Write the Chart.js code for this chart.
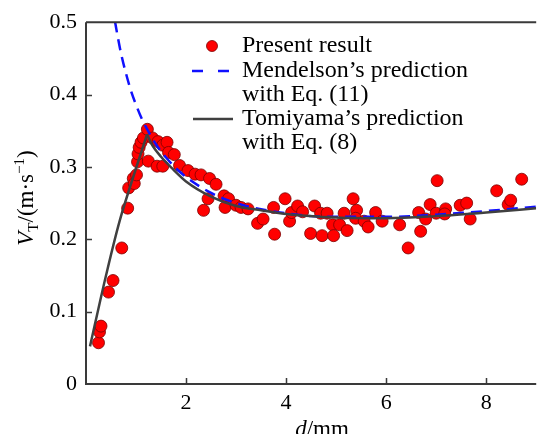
<!DOCTYPE html>
<html>
<head>
<meta charset="utf-8">
<script src="https://cdn.jsdelivr.net/npm/chart.js@4.4.1/dist/chart.umd.min.js"></script>
<style>
  html, body { margin: 0; padding: 0; background: #fff; }
</style>
</head>
<body>
<canvas id="chart" width="543" height="434"></canvas>
<script>
// Measured data: bubble diameter d (mm) vs terminal velocity VT (m/s)
const presentD = [
    0.25, 0.27, 0.30, 0.45, 0.54, 0.715, 0.833, 0.853, 0.945, 0.965,
    1.01, 1.03, 1.04, 1.063, 1.10, 1.148, 1.227, 1.246, 1.33, 1.44,
    1.42, 1.535, 1.535, 1.62, 1.65, 1.765, 1.87, 2.04, 2.18, 2.30,
    2.47, 2.60, 2.44, 2.35, 2.76, 2.85, 2.78, 3.00, 3.10, 3.24,
    3.43, 3.54, 3.75, 3.77, 3.98, 4.07, 4.11, 4.23, 4.33, 4.49,
    4.57, 4.69, 4.72, 4.82, 4.93, 4.95, 5.07, 5.16, 5.22, 5.34,
    5.41, 5.39, 5.56, 5.64, 5.79, 5.92, 6.27, 6.44, 6.65, 6.69,
    6.79, 6.88, 7.02, 7.00, 7.19, 7.17, 7.48, 7.61, 7.68, 8.21,
    8.44, 8.49, 8.71
];
const presentV = [
    0.057, 0.072, 0.080, 0.127, 0.143, 0.188, 0.243, 0.271, 0.284, 0.277,
    0.289, 0.307, 0.318, 0.327, 0.334, 0.340, 0.352, 0.308, 0.340, 0.335,
    0.301, 0.330, 0.301, 0.334, 0.320, 0.317, 0.302, 0.295, 0.290, 0.289,
    0.284, 0.276, 0.256, 0.240, 0.260, 0.256, 0.244, 0.247, 0.244, 0.242,
    0.222, 0.228, 0.244, 0.207, 0.256, 0.225, 0.237, 0.246, 0.238, 0.208,
    0.246, 0.236, 0.205, 0.236, 0.220, 0.205, 0.220, 0.236, 0.212, 0.256,
    0.240, 0.229, 0.225, 0.217, 0.237, 0.225, 0.220, 0.188, 0.237, 0.211,
    0.228, 0.248, 0.281, 0.236, 0.242, 0.235, 0.247, 0.250, 0.228, 0.267,
    0.248, 0.254, 0.283
];

// Mendelson's prediction, Eq. (11)
const mendD = [0.58, 0.6, 0.7, 0.8, 0.9, 1.0, 1.1, 1.2, 1.4, 1.6, 1.8, 2.0, 2.5, 3.0, 3.5, 4.0, 4.5, 5.0, 6.0, 7.0, 8.0, 9.0];
const mendV = [0.501, 0.493, 0.457, 0.429, 0.405, 0.386, 0.369, 0.355, 0.331, 0.313, 0.298, 0.286, 0.264, 0.250, 0.2415, 0.236, 0.232, 0.231, 0.231, 0.234, 0.239, 0.245];

// Tomiyama's prediction, Eq. (8): rising branch and falling branch
const tomiRiseD = [0.08, 0.4, 0.7, 1.22];
const tomiRiseV = [0.052, 0.150, 0.232, 0.345];
const tomiFallD = [1.22, 1.3, 1.5, 1.75, 2.0, 2.5, 3.0, 3.5, 4.0, 5.0, 6.0, 7.0, 8.0, 9.0];
const tomiFallV = [0.345, 0.333, 0.314, 0.296, 0.280, 0.259, 0.246, 0.240, 0.235, 0.230, 0.229, 0.232, 0.237, 0.243];

const xTicks = [2, 4, 6, 8];
const yTicks = [0, 0.1, 0.2, 0.3, 0.4, 0.5];
const legendLabels = ['Present result', 'Mendelson\u2019s prediction', 'with Eq. (11)', 'Tomiyama\u2019s prediction', 'with Eq. (8)'];

const SERIF = '"Liberation Serif", "Times New Roman", serif';
const AXIS_COLOR = '#3a3a3a';
const LINE_GRAY = '#404040';
const DASH_BLUE = '#1010ff';

function toPoints(xs, ys) {
    return xs.map((x, i) => ({ x: x, y: ys[i] }));
}

// draws a row of text runs (for sub/superscripts), centred on x
function drawRuns(ctx, runs, x, y) {
    let total = 0;
    runs.forEach(r => { ctx.font = r.font; r.w = ctx.measureText(r.text).width; total += r.w; });
    let cx = x - total / 2;
    runs.forEach(r => {
        ctx.font = r.font;
        ctx.fillText(r.text, cx, y + r.dy);
        cx += r.w;
    });
}

const decor = {
    id: 'decor',
    afterDraw(chart) {
        const ctx = chart.ctx;
        const a = chart.chartArea;
        const xs = chart.scales.x;
        const ys = chart.scales.y;
        ctx.save();

        // axes frame (left, bottom, top)
        ctx.strokeStyle = AXIS_COLOR;
        ctx.lineWidth = 2;
        ctx.beginPath();
        ctx.moveTo(a.left, a.top);
        ctx.lineTo(a.right, a.top);
        ctx.moveTo(a.left, a.top);
        ctx.lineTo(a.left, a.bottom);
        ctx.lineTo(a.right, a.bottom);
        ctx.stroke();

        // inward tick marks
        ctx.lineWidth = 1.5;
        ctx.beginPath();
        xTicks.forEach(v => {
            const px = Math.round(xs.getPixelForValue(v)) + 0.5;
            ctx.moveTo(px, a.bottom);
            ctx.lineTo(px, a.bottom - 6);
        });
        yTicks.forEach(v => {
            if (v === 0 || v === 0.5) return;
            const py = Math.round(ys.getPixelForValue(v)) + 0.5;
            ctx.moveTo(a.left, py);
            ctx.lineTo(a.left + 6, py);
        });
        ctx.stroke();

        // legend
        ctx.fillStyle = '#000';
        ctx.textBaseline = 'middle';
        ctx.textAlign = 'left';
        ctx.font = '24px ' + SERIF;
        const rows = [46, 71, 95, 119, 143];
        legendLabels.forEach((t, i) => ctx.fillText(t, 242, rows[i]));

        ctx.beginPath();
        ctx.arc(212, 46, 5.5, 0, Math.PI * 2);
        ctx.fillStyle = '#ff0000';
        ctx.fill();
        ctx.strokeStyle = '#7a0000';
        ctx.lineWidth = 0.8;
        ctx.stroke();

        ctx.strokeStyle = DASH_BLUE;
        ctx.lineWidth = 2.5;
        ctx.setLineDash([11, 15]);
        ctx.beginPath();
        ctx.moveTo(192, 71);
        ctx.lineTo(231, 71);
        ctx.stroke();
        ctx.setLineDash([]);

        ctx.strokeStyle = LINE_GRAY;
        ctx.beginPath();
        ctx.moveTo(193, 119);
        ctx.lineTo(233, 119);
        ctx.stroke();

        // axis titles
        ctx.fillStyle = '#000';
        ctx.textAlign = 'left';
        ctx.textBaseline = 'alphabetic';
        drawRuns(ctx, [
            { text: 'd', font: 'italic 23px ' + SERIF, dy: 0 },
            { text: '/mm', font: '23px ' + SERIF, dy: 0 }
        ], 322, 436);

        ctx.translate(33, 198);
        ctx.rotate(-Math.PI / 2);
        drawRuns(ctx, [
            { text: 'V', font: 'italic 23px ' + SERIF, dy: 0 },
            { text: 'T', font: '15px ' + SERIF, dy: 5 },
            { text: '/(m\u00b7s', font: '23px ' + SERIF, dy: 0 },
            { text: '\u22121', font: '15px ' + SERIF, dy: -9 },
            { text: ')', font: '23px ' + SERIF, dy: 0 }
        ], 0, 0);

        ctx.restore();
    }
};

const ctx = document.getElementById('chart').getContext('2d');
const chart = new Chart(ctx, {
    data: {
        datasets: [
            {
                type: 'line',
                label: 'Mendelson',
                data: toPoints(mendD, mendV),
                borderColor: DASH_BLUE,
                borderWidth: 2.5,
                borderDash: [11, 7],
                pointRadius: 0,
                cubicInterpolationMode: 'monotone',
                order: 1
            },
            {
                type: 'line',
                label: 'Tomiyama rise',
                data: toPoints(tomiRiseD, tomiRiseV),
                borderColor: LINE_GRAY,
                borderWidth: 2.5,
                pointRadius: 0,
                tension: 0.3,
                order: 0
            },
            {
                type: 'line',
                label: 'Tomiyama fall',
                data: toPoints(tomiFallD, tomiFallV),
                borderColor: LINE_GRAY,
                borderWidth: 2.5,
                pointRadius: 0,
                cubicInterpolationMode: 'monotone',
                order: 0
            },
            {
                type: 'scatter',
                label: 'Present result',
                data: toPoints(presentD, presentV),
                backgroundColor: '#ff0000',
                borderColor: '#7a0000',
                borderWidth: 0.8,
                pointRadius: 6,
                order: 2
            }
        ]
    },
    options: {
        responsive: false,
        animation: false,
        layout: { padding: { top: 19, right: 0, left: 0, bottom: 0 } },
        plugins: {
            legend: { display: false },
            tooltip: { enabled: false }
        },
        scales: {
            x: {
                type: 'linear',
                min: 0,
                max: 9,
                grid: { display: false, drawTicks: false },
                border: { display: false },
                afterBuildTicks: scale => { scale.ticks = xTicks.map(v => ({ value: v })); },
                afterFit: scale => { scale.height = 50; },
                ticks: {
                    padding: 6,
                    color: '#000',
                    font: { family: SERIF, size: 22 },
                    maxRotation: 0
                }
            },
            y: {
                type: 'linear',
                min: 0,
                max: 0.5,
                grid: { display: false, drawTicks: false },
                border: { display: false },
                afterBuildTicks: scale => { scale.ticks = yTicks.map(v => ({ value: v })); },
                afterFit: scale => { scale.width = 86; },
                ticks: {
                    padding: 9,
                    color: '#000',
                    font: { family: SERIF, size: 22 },
                    callback: v => (v === 0 ? '0' : v.toFixed(1))
                }
            }
        }
    },
    plugins: [decor]
});
</script>
</body>
</html>
